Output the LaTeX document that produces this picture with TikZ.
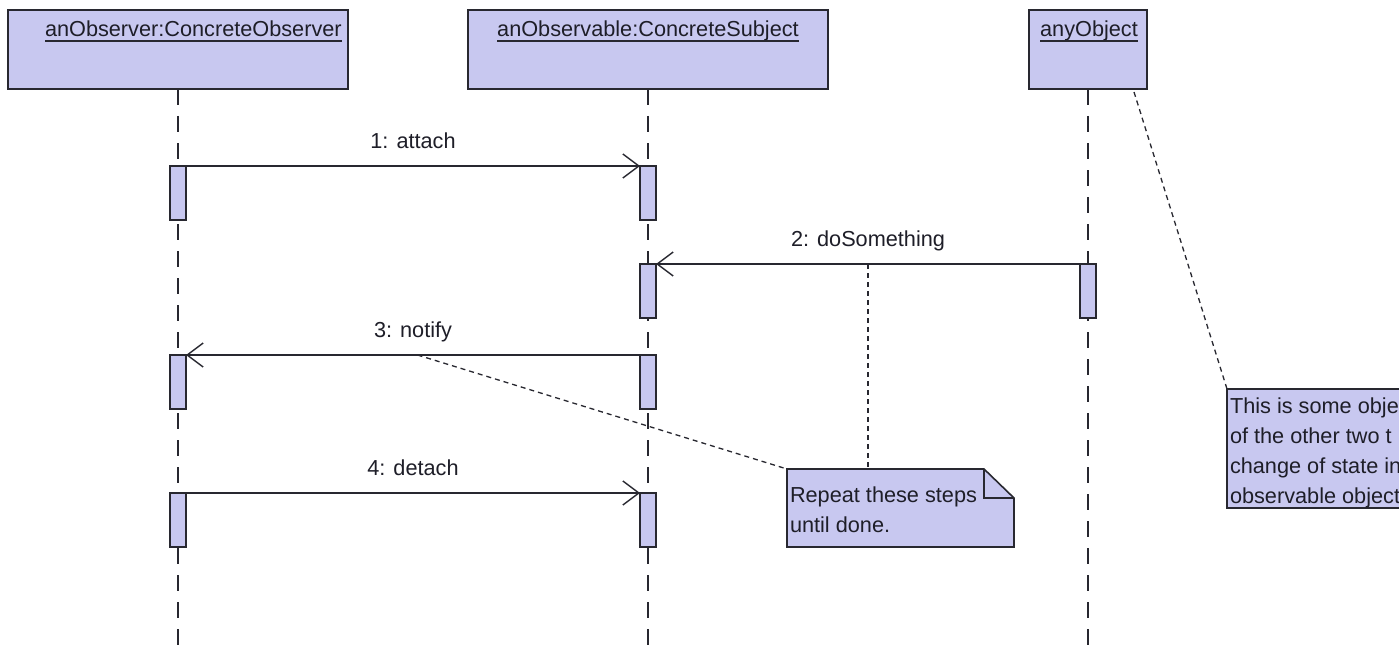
\documentclass[tikz,border=0pt]{standalone}
\usepackage{fontspec}
\setmainfont{Liberation Sans}
\usetikzlibrary{arrows.meta}
\definecolor{umlfill}{RGB}{200,200,240}
\definecolor{umlline}{RGB}{40,40,48}
\definecolor{umltext}{RGB}{30,30,40}
\begin{document}
\begin{tikzpicture}[x=1pt,y=-1pt,
  every node/.style={font=\fontsize{21.7}{30}\selectfont, text=umltext, inner sep=0pt, outer sep=0pt},
  headbox/.style={draw=umlline, fill=umlfill, line width=2pt, minimum width=#1, minimum height=79pt, anchor=north west},
  actbox/.style={draw=umlline, fill=umlfill, line width=1.6pt, minimum width=16pt, minimum height=54pt, anchor=north},
  lifeline/.style={draw=umlline, line width=1.6pt, dash pattern=on 16pt off 11pt},
  msg/.style={draw=umlline, line width=1.4pt, -{Straight Barb[length=16pt,width=24pt]}},
  lbl/.style={midway, anchor=base, yshift=18pt},
  notelink/.style={draw=umlline, line width=1.3pt, dash pattern=on 5pt off 4pt},
  notetext/.style={anchor=north west, align=left},
  uline/.style={draw=umlline, line width=1.3pt}
]
\useasboundingbox (0,0) rectangle (1399,650);
\clip (0,0) rectangle (1399,650);
\fill[white] (0,0) rectangle (1399,650);
\coordinate (bottom) at (0,650);

% header boxes
\node[headbox=340pt] (obs) at (8,10) {};
\node[headbox=360pt] (sub) at (468,10) {};
\node[headbox=118pt] (any) at (1029,10) {};
\node[anchor=base west] (obsT) at (45,37) {anObserver:ConcreteObserver};
\node[anchor=base] (subT) at (648,37) {anObservable:ConcreteSubject};
\node[anchor=base] (anyT) at (1089,37) {anyObject};
\draw[uline] ([yshift=-4pt]obsT.base west) -- ([yshift=-4pt]obsT.base east);
\draw[uline] ([yshift=-4pt]subT.base west) -- ([yshift=-4pt]subT.base east);
\draw[uline] ([yshift=-4pt]anyT.base west) -- ([yshift=-4pt]anyT.base east);

% lifelines
\draw[lifeline] (obs.south) -- (obs.south |- bottom);
\draw[lifeline] (sub.south) -- (sub.south |- bottom);
\draw[lifeline] (any.south) -- (any.south |- bottom);

% activations
\node[actbox] (a1) at (178,166) {};
\node[actbox] (a3) at (178,355) {};
\node[actbox] (a4) at (178,493) {};
\node[actbox] (b1) at (648,166) {};
\node[actbox] (b2) at (648,264) {};
\node[actbox] (b3) at (648,355) {};
\node[actbox] (b4) at (648,493) {};
\node[actbox] (c2) at (1088,264) {};

% messages
\draw[msg] (a1.north east) -- node[lbl] {1: attach} (b1.north west);
\draw[msg] (c2.north west) -- node[lbl] {2: doSomething} coordinate[pos=0.5] (m2) (b2.north east);
\draw[msg] (b3.north west) -- node[lbl] {3: notify} coordinate[pos=0.49] (m3) (a3.north east);
\draw[msg] (a4.north east) -- node[lbl] {4: detach} (b4.north west);

% note 1
\node[minimum width=227pt, minimum height=78pt, anchor=north west] (n1) at (787,469) {};
\draw[notelink] (m3) -- (n1.north west);
\draw[notelink] (m2) -- (m2 |- n1.north);
\draw[draw=umlline, fill=umlfill, line width=1.6pt, line join=miter]
  (n1.north west) -- ([xshift=-30pt]n1.north east) -- ([yshift=-29pt]n1.north east)
  -- (n1.south east) -- (n1.south west) -- cycle;
\draw[draw=umlline, line width=1.6pt] ([xshift=-30pt]n1.north east) |- ([yshift=-29pt]n1.north east);
\node[notetext] (n1t) at (790,487) {Repeat these steps\\until done.};

% note 2
\node[draw=umlline, fill=umlfill, line width=1.6pt, minimum width=260pt, minimum height=119pt, anchor=north west] (n2) at (1227,389) {};
\draw[notelink] ([xshift=-13pt,yshift=-3pt]any.south east) -- (n2.north west);
\node[notetext] (n2t) at (1230,397.5) {This is some objec\\of the other two t\\change of state in\\observable object};
\end{tikzpicture}
\end{document}
